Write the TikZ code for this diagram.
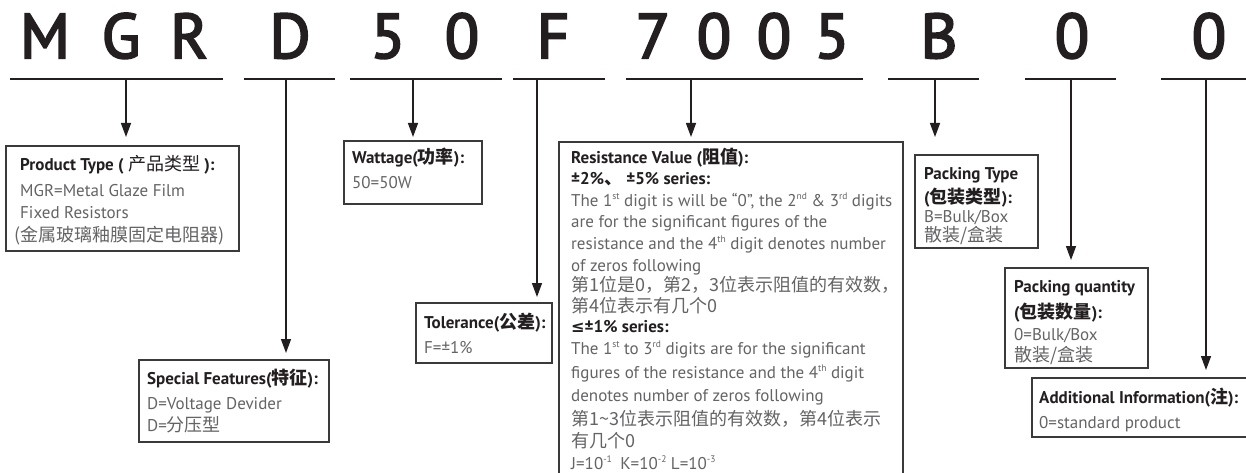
\documentclass[tikz,border=0pt]{standalone}
\usepackage{fontspec}
\setmainfont{PT Sans}
\newfontfamily\cjk{Noto Sans CJK SC}[Scale=1.0588]
\newfontfamily\symf{DejaVu Sans}[Scale=0.95]
\usetikzlibrary{arrows.meta}
\definecolor{ink}{HTML}{231F20}
\definecolor{bodygray}{HTML}{646466}
\definecolor{boxgray}{HTML}{3A3A3A}
\newcommand\zh[1]{{\cjk #1}}
\newcommand\sups[1]{\raisebox{0.75ex}{\fontsize{9.5}{10}\selectfont #1}}
\newcommand\bigch[1]{\special{pdf:literal direct 2 Tr 2 w}#1\special{pdf:literal direct 0 Tr}}
\begin{document}
\begin{tikzpicture}[x=1pt,y=-1pt,
  body/.style={anchor=base west, inner sep=0pt, text=bodygray, font=\fontsize{17}{22}\selectfont},
  head/.style={anchor=base west, inner sep=0pt, text=ink, font=\fontsize{17}{22}\selectfont\bfseries},
  box/.style={draw=boxgray, line width=1.1pt, inner sep=0pt},
  arr/.style={draw=ink, line width=1.4pt, -{Triangle[length=14pt,width=10pt]}},
  uline/.style={draw=ink, line width=2.2pt},
  big/.style={anchor=base, inner sep=0pt, text=ink, font=\fontsize{63}{63}\selectfont}]
\path[use as bounding box, clip] (0,0) rectangle (1246,473);
\fill[white] (0,0) rectangle (1246,473);

% code letters
\node[big] (L1) at (45,58) {\bigch{M}};
\node[big] (L2) at (121,58) {\bigch{G}};
\node[big] (L3) at (189,58) {\bigch{R}};
\node[big] (L4) at (290,58) {\bigch{D}};
\node[big] (L5) at (388,58) {\bigch{5}};
\node[big] (L6) at (462,58) {\bigch{0}};
\node[big] (L7) at (553,58) {\bigch{F}};
\node[big] (L8) at (653,58) {\bigch{7}};
\node[big] (L9) at (714,58) {\bigch{0}};
\node[big] (L10) at (774,58) {\bigch{0}};
\node[big] (L11) at (832,58) {\bigch{5}};
\node[big] (L12) at (939,58) {\bigch{B}};
\node[big] (L13) at (1072,58) {\bigch{0}};
\node[big] (L14) at (1209,58) {\bigch{0}};

% underlines
\draw[uline] (10,79) -- (223,79);
\draw[uline] (244,79) -- (335,79);
\draw[uline] (350,79) -- (502,79);
\draw[uline] (513,79) -- (605,79);
\draw[uline] (626,79) -- (863,79);
\draw[uline] (888,79) -- (979,79);
\draw[uline] (1025,79) -- (1116,79);
\draw[uline] (1161,79) -- (1250,79);

% connector start / end points
\coordinate (s1) at (126,79);  \coordinate (e1) at (126,137);
\coordinate (s2) at (286,79);  \coordinate (e2) at (286,353);
\coordinate (s3) at (413,79);  \coordinate (e3) at (413,137);
\coordinate (s4) at (537,79);  \coordinate (e4) at (537,297);
\coordinate (s5) at (691,79);  \coordinate (e5) at (691,137);
\coordinate (s6) at (935,79);  \coordinate (e6) at (935,137);
\coordinate (s7) at (1071,79); \coordinate (e7) at (1071,260);
\coordinate (s8) at (1206,79); \coordinate (e8) at (1206,370);
\foreach \i in {1,...,8} {\draw[arr] (s\i) -- (e\i);}

% boxes
\node[box, minimum width=233pt, minimum height=105pt] (bProd) at (122.5,198.5) {};
\node[box, minimum width=138pt, minimum height=63pt] (bWatt) at (413,172.5) {};
\node[box, minimum width=344pt, minimum height=348pt] (bRes) at (731,316) {};
\node[box, minimum width=136pt, minimum height=60pt] (bTol) at (484,333) {};
\node[box, minimum width=190pt, minimum height=82pt] (bSpec) at (234,401) {};
\node[box, minimum width=123pt, minimum height=93pt] (bPT) at (976.5,201.5) {};
\node[box, minimum width=143pt, minimum height=100pt] (bPQ) at (1076.5,318) {};
\node[box, minimum width=238pt, minimum height=59pt] (bAdd) at (1151,407.5) {};

% Product type
\node[head] (p1) at (20,171) {Product Type ( {\mdseries\zh{产品类型}} ):};
\node[body] (p2) at (20,196) {MGR=Metal Glaze Film};
\node[body] (p3) at (20,218) {Fixed Resistors};
\node[body] (p4) at (14,241) {\zh{(金属玻璃釉膜固定电阻器)}};

% Wattage
\node[head] (w1) at (352,164) {Wattage(\zh{功率}):};
\node[body] (w2) at (352,189) {50=50W};

% Resistance value
\node[head] (r1) at (571,164) {Resistance Value (\zh{阻值}):};
\node[head] (r2) at (571,184) {±2\%\zh{、} ±5\% series:};
\node[body] (r3) at (571,206) {The 1\sups{st} digit is will be “0”, the 2\sups{nd} \& 3\sups{rd} digits};
\node[body] (r4) at (571,227) {are for the significant figures of the};
\node[body] (r5) at (571,249) {resistance and the 4\sups{th} digit denotes number};
\node[body] (r6) at (571,271) {of zeros following};
\node[body] (r7) at (571,291) {\zh{第1位是0，第2，3位表示阻值的有效数，}};
\node[body] (r8) at (571,312) {\zh{第4位表示有几个0}};
\node[head] (r9) at (571,332) {{\symf ≤}±1\% series:};
\node[body] (r10) at (571,354) {The 1\sups{st} to 3\sups{rd} digits are for the significant};
\node[body] (r11) at (571,378) {figures of the resistance and the 4\sups{th} digit};
\node[body] (r12) at (571,401) {denotes number of zeros following};
\node[body] (r13) at (571,425) {\zh{第1\textasciitilde 3位表示阻值的有效数，第4位表示}};
\node[body] (r14) at (571,447) {\zh{有几个0}};
\node[body] (r15) at (571,469) {J=10\sups{-1}\enspace K=10\sups{-2} L=10\sups{-3}};

% Tolerance
\node[head] (t1) at (424,328) {Tolerance(\zh{公差}):};
\node[body] (t2) at (424,353) {F=±1\%};

% Special features
\node[head] (f1) at (147,384) {Special Features(\zh{特征}):};
\node[body] (f2) at (147,409) {D=Voltage Devider};
\node[body] (f3) at (147,431) {D=\zh{分压型}};

% Packing type
\node[head] (k1) at (924,179) {Packing Type};
\node[head] (k2) at (924,203) {(\zh{包装类型}):};
\node[body] (k3) at (924,222) {B=Bulk/Box};
\node[body] (k4) at (924,241) {\zh{散装/盒装}};

% Packing quantity
\node[head] (q1) at (1014,292) {Packing quantity};
\node[head] (q2) at (1014,318) {(\zh{包装数量}):};
\node[body] (q3) at (1014,340) {0=Bulk/Box};
\node[body] (q4) at (1014,361) {\zh{散装/盒装}};

% Additional information
\node[head] (a1) at (1039,403) {Additional Information(\zh{注}):};
\node[body] (a2) at (1039,428) {0=standard product};
\end{tikzpicture}
\end{document}
